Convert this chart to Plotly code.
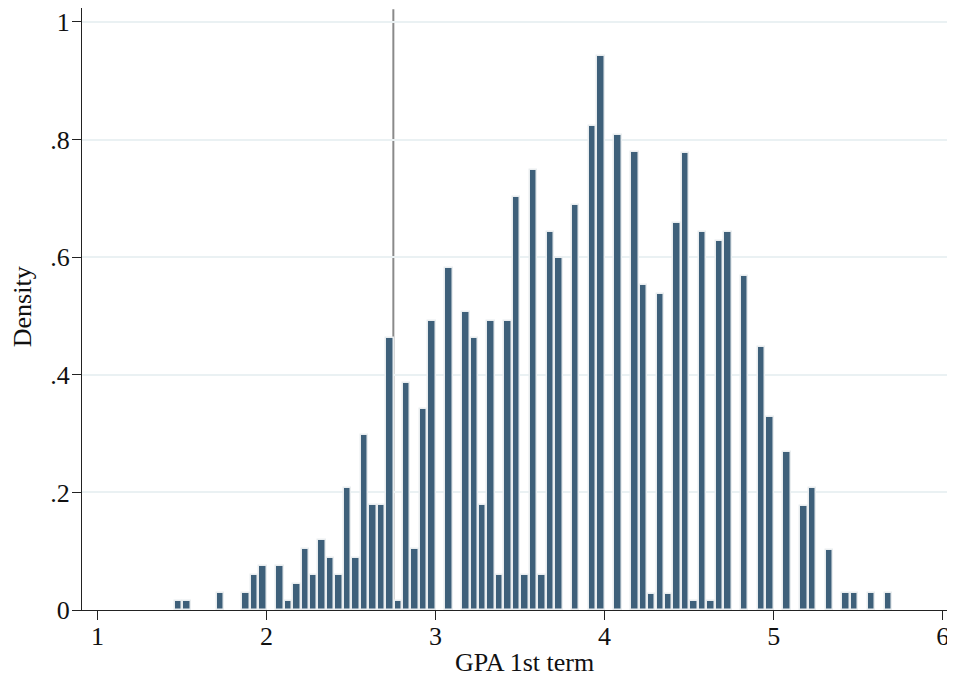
import plotly.graph_objects as go

# Histogram of GPA, 1st term (density), bins of width 0.05
bin_start = 1.454
bin_width = 0.05
density = [
    0.0149, 0.0149, 0, 0, 0, 0.0297, 0, 0, 0.0297, 0.059,
    0.074, 0, 0.074, 0.0149, 0.0446, 0.104, 0.059, 0.119, 0.089, 0.059,
    0.208, 0.089, 0.297, 0.178, 0.178, 0.462, 0.0149, 0.386, 0.104, 0.342,
    0.492, 0, 0.582, 0, 0.507, 0.462, 0.178, 0.492, 0.059, 0.492,
    0.703, 0.059, 0.748, 0.059, 0.643, 0.599, 0, 0.689, 0, 0.823,
    0.943, 0, 0.807, 0, 0.779, 0.553, 0.028, 0.538, 0.028, 0.658,
    0.778, 0.0149, 0.643, 0.0149, 0.628, 0.643, 0, 0.568, 0, 0.447,
    0.328, 0, 0.268, 0, 0.177, 0.207, 0, 0.102, 0, 0.0297,
    0.0297, 0, 0.0297, 0, 0.0297,
]
cutoff = 2.75
x_ticks = [1, 2, 3, 4, 5, 6]
y_ticks = [0, 0.2, 0.4, 0.6, 0.8, 1.0]
y_ticktext = ["0", ".2", ".4", ".6", ".8", "1"]
x_title = "GPA 1st term"
y_title = "Density"

centers = [bin_start + bin_width * (k + 0.5) for k in range(len(density))]
heights = [d if d > 0 else None for d in density]

FONT = "Liberation Serif"
FS = 26

fig = go.Figure()
fig.add_trace(go.Bar(
    x=centers, y=heights, width=bin_width * 0.88,
    marker=dict(color="#3e607a", line=dict(color="#e9edef", width=1.5)),
    hoverinfo="x+y", showlegend=False,
))
fig.add_shape(type="line", xref="x", yref="paper", x0=cutoff, x1=cutoff,
              y0=0, y1=0.998, line=dict(color="#8a8a8a", width=2), layer="below")

fig.add_annotation(text=x_title, xref="paper", yref="paper", x=0.507, y=-0.0864,
                   xanchor="center", yanchor="middle", showarrow=False,
                   font=dict(family=FONT, size=FS, color="#111"))
fig.add_annotation(text=y_title, xref="paper", yref="paper", x=-0.0687, y=0.503,
                   xanchor="center", yanchor="middle", showarrow=False, textangle=-90,
                   font=dict(family=FONT, size=FS, color="#111"))

fig.update_layout(
    width=947, height=669,
    margin=dict(l=74, r=0, t=0, b=67, autoexpand=False),
    plot_bgcolor="white", paper_bgcolor="white",
    font=dict(family=FONT, size=FS, color="#111"),
    bargap=0,
)
fig.update_xaxes(
    range=[0.908, 6.073], tickvals=x_ticks, ticks="outside", ticklen=9,
    tickwidth=1.3, tickcolor="#222", showline=True, linecolor="#222", linewidth=1.3,
    showgrid=False, zeroline=False, automargin=False, ticklabelstandoff=-6,
)
fig.update_yaxes(
    range=[0, 1.0238], tickvals=y_ticks, ticktext=y_ticktext, ticks="outside",
    ticklen=9, tickwidth=1.3, tickcolor="#222", showline=True, linecolor="#222",
    linewidth=1.3, showgrid=True, gridcolor="#eaf1f3", gridwidth=1.5,
    zeroline=False, automargin=False, ticklabelstandoff=-3,
)
fig.write_html("out.html")
